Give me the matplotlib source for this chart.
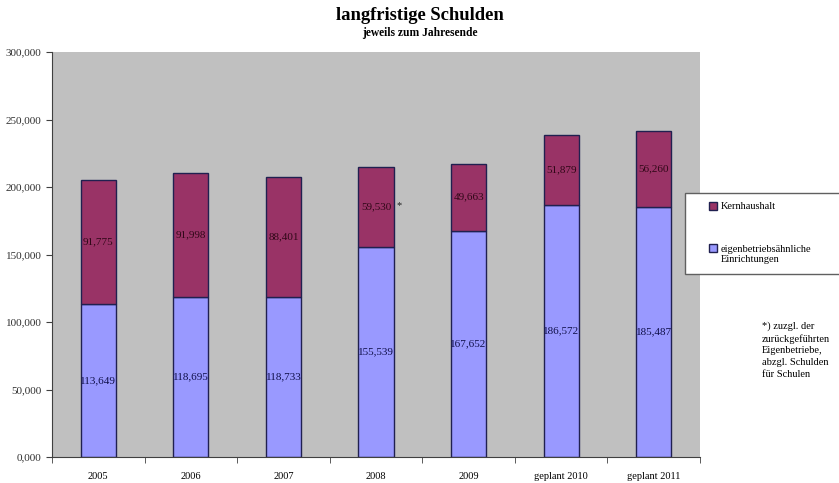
import matplotlib
matplotlib.use("Agg")
import matplotlib.pyplot as plt
from matplotlib.ticker import FuncFormatter, MultipleLocator
from matplotlib.patches import Rectangle
from matplotlib.legend_handler import HandlerPatch

categories = ["2005", "2006", "2007", "2008", "2009", "geplant 2010", "geplant 2011"]
eigen = [113649, 118695, 118733, 155539, 167652, 186572, 185487]
kern = [91775, 91998, 88401, 59530, 49663, 51879, 56260]
eigen_labels = ["113,649", "118,695", "118,733", "155,539", "167,652", "186,572", "185,487"]
kern_labels = ["91,775", "91,998", "88,401", "59,530", "49,663", "51,879", "56,260"]

plt.rcParams['font.family'] = ['Liberation Serif', 'DejaVu Serif']

fig = plt.figure(figsize=(8.39, 4.83), dpi=100)
ax = fig.add_axes([52/839, 1-457/483, 648/839, 405/483])
ax.set_facecolor("#c0c0c0")

x = list(range(len(categories)))
w = 0.38
b1 = ax.bar(x, eigen, width=w, color="#9999ff", edgecolor="#202050", linewidth=1.0)
b2 = ax.bar(x, kern, width=w, bottom=eigen, color="#993366", edgecolor="#202050", linewidth=1.0)

for i in x:
    ax.text(i, eigen[i] / 2, eigen_labels[i], ha="center", va="center", fontsize=8, color="#10104a")
    ax.text(i, eigen[i] + kern[i] / 2, kern_labels[i], ha="center", va="center", fontsize=8, color="#300818")

ax.text(3.25, 186000, "*", ha="center", va="center", fontsize=7.5, color="#202020")

ax.set_xlim(-0.5, len(categories) - 0.5)
ax.set_ylim(0, 300000)
ax.yaxis.set_major_locator(MultipleLocator(50000))
ax.yaxis.set_major_formatter(FuncFormatter(lambda v, p: f"{int(v)//1000},000"))
ax.set_xticks(x)
ax.set_xticklabels(categories, fontsize=7.5)
ax.set_xticks([i + 0.5 for i in range(-1, len(categories))], minor=True)
ax.tick_params(axis="x", which="major", length=0, pad=11)
ax.tick_params(axis="x", which="minor", length=4, color="#404040")
ax.tick_params(axis="y", labelsize=8, length=4, color="#404040", labelcolor="#303030")
for s in ["top", "right"]:
    ax.spines[s].set_visible(False)
for s in ["left", "bottom"]:
    ax.spines[s].set_color("#404040")

fig.text(0.5, 1 - 16/483, "langfristige Schulden", ha="center", va="center", fontsize=13.4, fontweight="bold")
fig.text(0.5, 1 - 33/483, "jeweils zum Jahresende", ha="center", va="center", fontsize=8.3, fontweight="bold")


def make_square(shift):
    def f(legend, orig_handle, xdescent, ydescent, width, height, fontsize):
        s = height
        return Rectangle((width - s - xdescent, -ydescent + shift * fontsize), s, s)
    return f


h2 = b2.patches[0]
h1 = b1.patches[0]
leg = fig.legend(handles=[h2, h1], labels=["Kernhaushalt", "eigenbetriebsähnliche\nEinrichtungen"],
                 loc="upper left",
                 bbox_to_anchor=(685/839, 1 - 193/483, 175/839, 0.001), mode="expand",
                 borderaxespad=0,
                 frameon=True, fontsize=7.5, handlelength=2.2, handleheight=0.8,
                 handletextpad=0.3, labelspacing=3.2, borderpad=0.9, fancybox=False,
                 edgecolor="#606060", facecolor="white", framealpha=1.0,
                 handler_map={h2: HandlerPatch(patch_func=make_square(0.0)),
                              h1: HandlerPatch(patch_func=make_square(0.6))})
leg.get_frame().set_linewidth(1.0)

fig.text(762/839, 1 - 321/483, "*) zuzgl. der\nzurückgeführten\nEigenbetriebe,\nabzgl. Schulden\nfür Schulen",
         ha="left", va="top", fontsize=7.5, linespacing=1.42)

fig.savefig("out.png", dpi=100)
